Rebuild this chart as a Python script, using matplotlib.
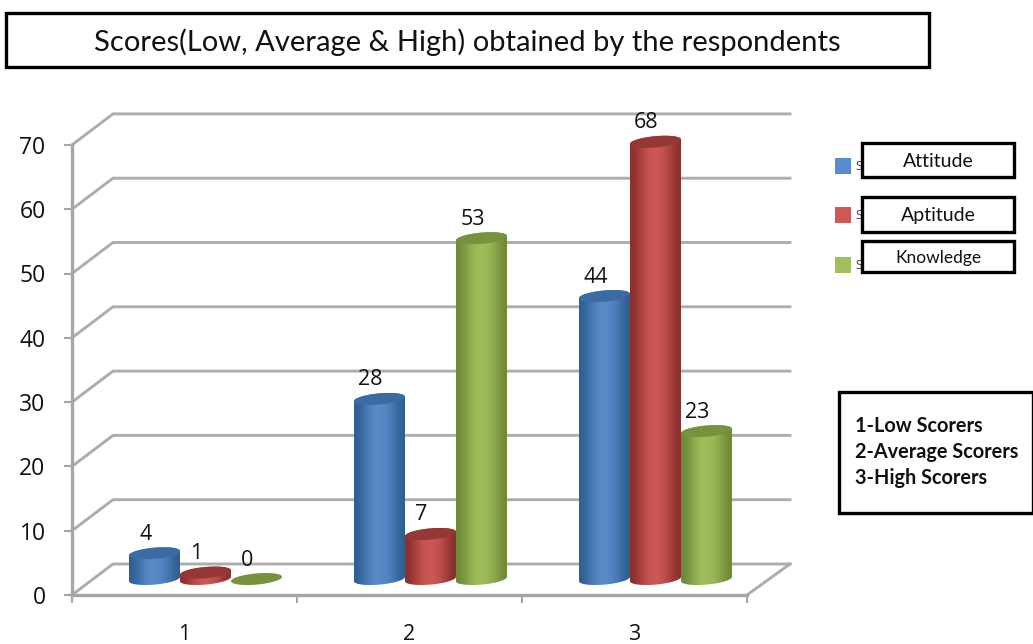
import numpy as np
import matplotlib
matplotlib.use("Agg")
import matplotlib.pyplot as plt
from matplotlib.colors import LinearSegmentedColormap
from matplotlib.patches import Polygon, Rectangle

categories = [1, 2, 3]
attitude = [4, 28, 44]
aptitude = [1, 7, 68]
knowledge = [0, 53, 23]
series_names = ["Attitude", "Aptitude", "Knowledge"]
notes = ["1-Low Scorers", "2-Average Scorers", "3-High Scorers"]
title = "Scores(Low, Average & High) obtained by the respondents"
yticks = [0, 10, 20, 30, 40, 50, 60, 70]

W, H = 1033, 644
plt.rcParams['font.family'] = ['Open Sans', 'DejaVu Sans']
fig = plt.figure(figsize=(W / 100, H / 100), dpi=100)

# pixel scale of the front plane
px_x = 225.0
px_y = 6.43
ax = fig.add_axes([72 / W, (H - 595) / H, 718 / W, 495 / H])
ax.set_xlim(0.5, 0.5 + 718 / px_x)
ax.set_ylim(0, 495 / px_y)
ax.patch.set_visible(False)

# fake 3d: back wall and floor
grid_col = "#adadad"
dx = 41 / px_x
dy = 31 / px_y
xend = ax.get_xlim()[1]
for v in yticks:
    ax.plot([0.5, 0.5 + dx, xend], [v, v + dy, v + dy], color=grid_col, lw=2.1,
            zorder=1, clip_on=False, solid_joinstyle="miter")
ax.plot([3.5, xend], [0, dy], color=grid_col, lw=2.1, zorder=1, clip_on=False)

for s in ["top", "right"]:
    ax.spines[s].set_visible(False)
for s in ["left", "bottom"]:
    ax.spines[s].set_color("#a6a6a6")
    ax.spines[s].set_linewidth(2.4)
ax.spines["left"].set_bounds(0, 70)
ax.spines["bottom"].set_bounds(0.5, 3.5)
ax.set_yticks(yticks)
ax.set_xticks(categories)
ax.set_xticks([0.5, 1.5, 2.5, 3.5], minor=True)
ax.tick_params(axis="y", length=6, width=1.5, color="#a6a6a6", labelsize=16.5,
               labelcolor="#111111", pad=13)
ax.tick_params(axis="x", which="major", length=0, labelsize=15.5, labelcolor="#111111", pad=21)
ax.tick_params(axis="x", which="minor", length=6, width=1.5, color="#a6a6a6")
for lab in ax.get_xticklabels() + ax.get_yticklabels():
    lab.set_fontweight("medium")

# cylinders
bar_w = 51 / px_x
off_x = 21 / px_x
off_y = 16 / px_y
rx = bar_w / 2
ry = 5.6 / px_y
skew = 2.2 / px_y
colours = [("#2f5f92", "#5a8ccb", "#3a6ba3"),
           ("#8a302e", "#cf5855", "#953735"),
           ("#6f8a38", "#a0c05c", "#76923c")]
series = [attitude, aptitude, knowledge]


def rim(cx, cy, t):
    return np.column_stack([cx + rx * np.cos(t), cy + ry * np.sin(t) + skew * np.cos(t)])


t_low = np.linspace(np.pi, 2 * np.pi, 40)
t_up = np.linspace(0, np.pi, 40)
t_all = np.linspace(0, 2 * np.pi, 80)
grad_vals = np.array([[0.0, 0.45, 0.9, 1.0, 0.85, 0.5, 0.0]])

for j, values in enumerate(series):
    cmap = LinearSegmentedColormap.from_list("c%d" % j, colours[j][:2])
    for i, v in enumerate(values):
        cx = categories[i] + off_x + (j - 1) * bar_w
        base = off_y
        top = v + off_y
        z = 3 + j + i * 0.01
        if v > 0:
            im = ax.imshow(grad_vals, cmap=cmap, vmin=0, vmax=1, aspect="auto",
                           interpolation="bicubic", zorder=z,
                           extent=[cx - rx, cx + rx, base - ry - skew, top + ry + skew])
            body = Polygon(np.vstack([rim(cx, base, t_low), rim(cx, top, t_up)]),
                           closed=True, transform=ax.transData, fc="none", ec="none")
            ax.add_patch(body)
            im.set_clip_path(body)
        ax.add_patch(Polygon(rim(cx, top, t_all), closed=True, fc=colours[j][2],
                             ec="none", zorder=z + 0.1))
        ax.annotate(str(v), (cx, top), xytext=(-9, 19), textcoords="offset pixels",
                    ha="center", va="center", fontsize=15.5, color="#111111", zorder=10)
ax.set_xlim(0.5, 0.5 + 718 / px_x)
ax.set_ylim(0, 495 / px_y)

# overlay in pixel coordinates for the pasted boxes
ov = fig.add_axes([0, 0, 1, 1])
ov.set_xlim(0, W)
ov.set_ylim(H, 0)
ov.axis("off")
ov.patch.set_visible(False)


def box(x0, y0, x1, y1, lw=2.4):
    ov.add_patch(Rectangle((x0, y0), x1 - x0, y1 - y0, fc="white", ec="black", lw=lw, zorder=5))


box(6, 13, 929, 67)
ov.text(467, 42, title, ha="center", va="center", fontsize=21, color="#111111", zorder=6,
        family=["Lato", "DejaVu Sans"])

# legend squares, only the first letter of the old series name still shows
square_y = [158, 207, 257]
boxes_y = [(143, 177), (197, 232), (241, 272)]
text_size = [14, 14, 12.5]
for k, name in enumerate(series_names):
    ov.add_patch(Rectangle((835, square_y[k]), 16, 16, fc=colours[k][1], ec="none", zorder=2))
    ov.text(855, square_y[k] + 8, "S", va="center", fontsize=9,
            color="#444444", zorder=2)
    box(862, boxes_y[k][0], 1014, boxes_y[k][1])
    ov.text(938, sum(boxes_y[k]) / 2 + 1, name, ha="center", va="center",
            fontsize=text_size[k], color="#111111", zorder=6, family=["Lato", "DejaVu Sans"])

box(839, 392, 1033, 513)
for k, line in enumerate(notes):
    ov.text(855, 426 + 26 * k, line, va="center", fontsize=14.3, fontweight="bold",
            color="#111111", zorder=6, family=["Lato", "DejaVu Sans"])

fig.savefig("out.png", dpi=100, facecolor="white")
